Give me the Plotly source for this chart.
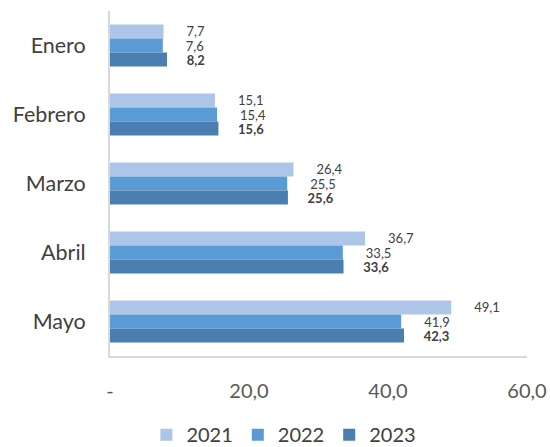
import plotly.graph_objects as go

months = ["Enero", "Febrero", "Marzo", "Abril", "Mayo"]
years = ["2021", "2022", "2023"]
v2021 = [7.7, 15.1, 26.4, 36.7, 49.1]
v2022 = [7.6, 15.4, 25.5, 33.5, 41.9]
v2023 = [8.2, 15.6, 25.6, 33.6, 42.3]
tick_vals = [0, 20, 40, 60]
tick_text = ["-", "20,0", "40,0", "60,0"]

colors = ["#adc6e7", "#5b9bd5", "#4a7eb0"]
series = [v2021, v2022, v2023]
templates = ["\u00a0" * 6 + "%{x:.1f}", "\u00a0" * 6 + "%{x:.1f}",
             "\u00a0" * 5 + "<b>%{x:.1f}</b>"]

fig = go.Figure()
for name, vals, col, tpl in zip(years, series, colors, templates):
    fig.add_trace(go.Bar(
        name=name, y=months, x=vals, orientation="h",
        marker=dict(color=col, line=dict(width=0)),
        texttemplate=tpl, textposition="outside", constraintext="none",
        cliponaxis=False,
        textfont=dict(size=13, color="#404040", family="Lato"),
        hoverinfo="skip",
    ))

fig.update_layout(
    width=550, height=447,
    separators=",.",
    barmode="group", bargap=0.39, bargroupgap=0,
    plot_bgcolor="white", paper_bgcolor="white",
    margin=dict(l=110, r=23, t=11, b=91, autoexpand=False),
    font=dict(family="Lato", color="#404040", size=18),
    showlegend=True,
    legend=dict(orientation="h", x=0.417, xanchor="center", y=-0.228, yanchor="middle",
                font=dict(size=20, color="#404040"), itemwidth=30, traceorder="normal"),
    xaxis=dict(range=[0, 60], tickvals=tick_vals, ticktext=tick_text, automargin=False,
               showgrid=False, zeroline=False, showline=True, linecolor="#d9d9d9",
               linewidth=1.5, ticks="", ticklabelstandoff=16,
               tickfont=dict(size=20, color="#595959")),
    yaxis=dict(autorange="reversed", showgrid=False, zeroline=False, showline=True,
               automargin=False,
               linecolor="#d9d9d9", linewidth=2, ticks="", ticklabelstandoff=18,
               tickfont=dict(size=21.5, color="#404040")),
)

fig.write_html("out.html", config={"displayModeBar": False},
               post_script="document.body.style.margin='0';document.body.style.overflow='hidden';")
